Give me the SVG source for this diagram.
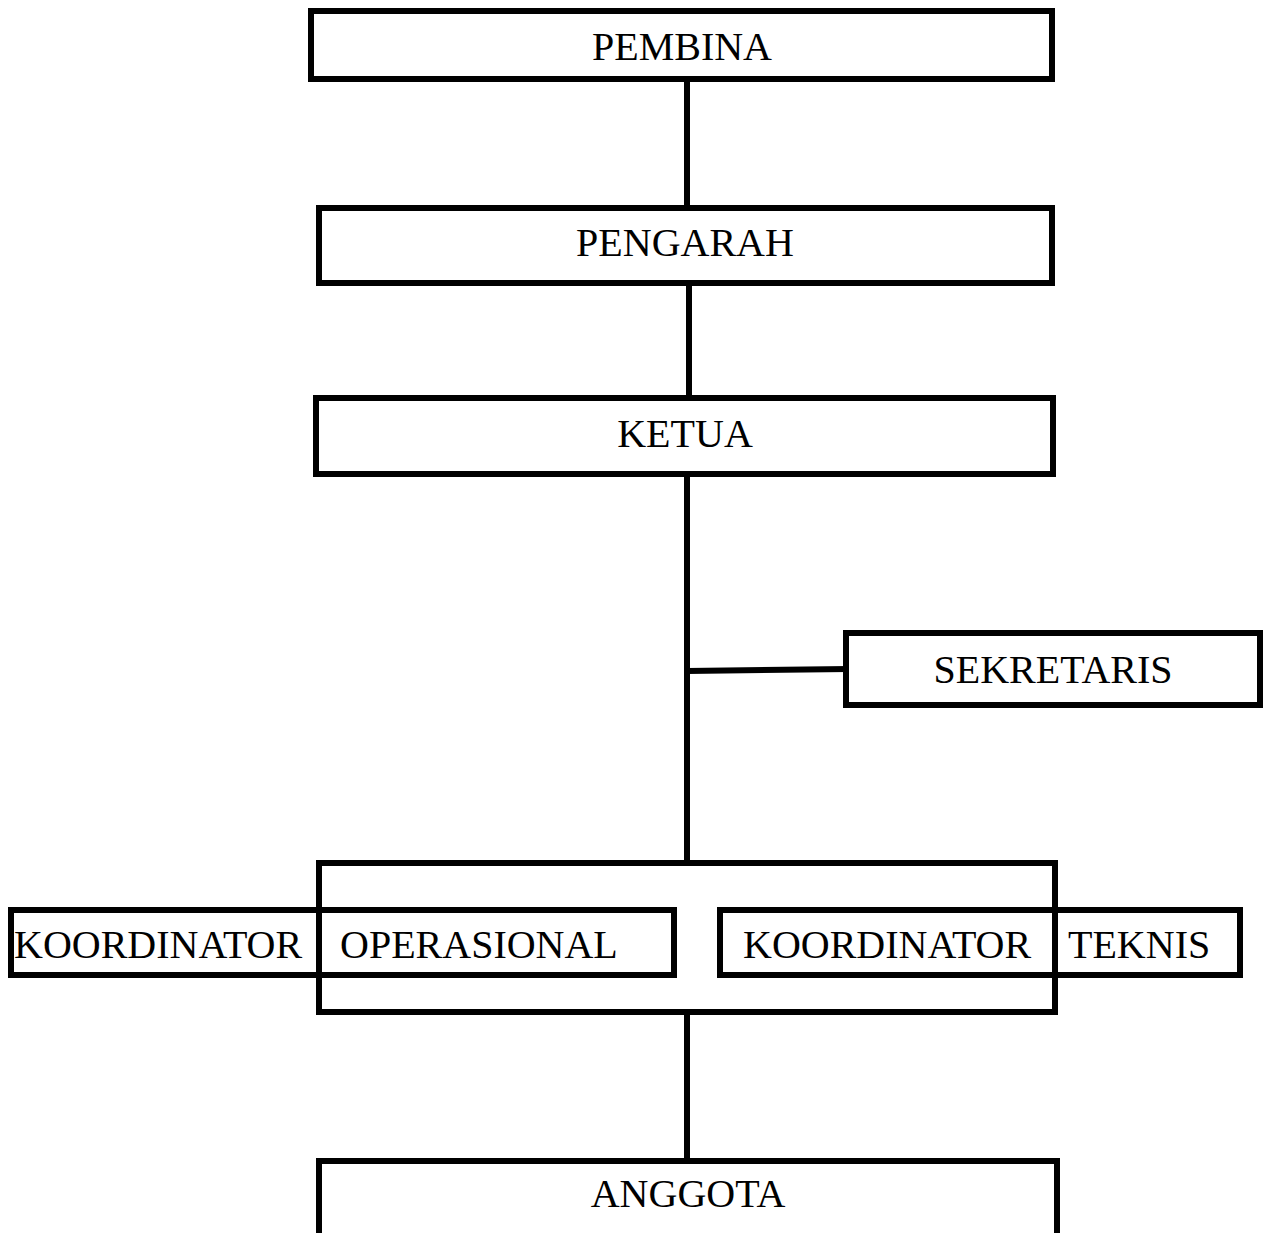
<svg xmlns="http://www.w3.org/2000/svg" width="1265" height="1233" viewBox="0 0 1265 1233">
<style>
.box{fill:#fff;stroke:#000;stroke-width:6}
.open{fill:none;stroke:#000;stroke-width:6}
.ln{stroke:#000;stroke-width:6;fill:none}
text{font-family:"Liberation Serif","Times New Roman",serif;font-size:40px;fill:#000}
.c{text-anchor:middle}
</style>
<rect width="1265" height="1233" fill="#fff"/>
<g id="connectors">
<line class="ln" x1="687" y1="79" x2="687" y2="208"/>
<line class="ln" x1="689" y1="283" x2="689" y2="398"/>
<line class="ln" x1="687" y1="474" x2="687" y2="863"/>
<line class="ln" x1="687" y1="671" x2="849" y2="669"/>
<line class="ln" x1="687" y1="1012" x2="687" y2="1161"/>
</g>
<g id="pembina"><rect class="box" x="311" y="11" width="741" height="68"/><text class="c" x="682" y="60">PEMBINA</text></g>
<g id="pengarah"><rect class="box" x="319" y="208" width="733" height="75"/><text class="c" x="685" y="256">PENGARAH</text></g>
<g id="ketua"><rect class="box" x="316" y="398" width="737" height="76"/><text class="c" x="685" y="447">KETUA</text></g>
<g id="sekretaris"><rect class="box" x="846" y="633" width="414" height="72"/><text class="c" x="1053" y="683">SEKRETARIS</text></g>
<g id="koordinator-group"><rect class="open" x="319" y="863" width="736" height="149"/></g>
<g id="koordinator-operasional"><rect class="open" x="11" y="910" width="663" height="65"/><text x="14" y="958">KOORDINATOR</text><text x="340" y="958">OPERASIONAL</text></g>
<g id="koordinator-teknis"><rect class="open" x="720" y="910" width="520" height="65"/><text x="743" y="958">KOORDINATOR</text><text x="1068" y="958">TEKNIS</text></g>
<g id="anggota"><rect class="box" x="319" y="1161" width="738" height="80"/><text class="c" x="688" y="1207">ANGGOTA</text></g>
</svg>
